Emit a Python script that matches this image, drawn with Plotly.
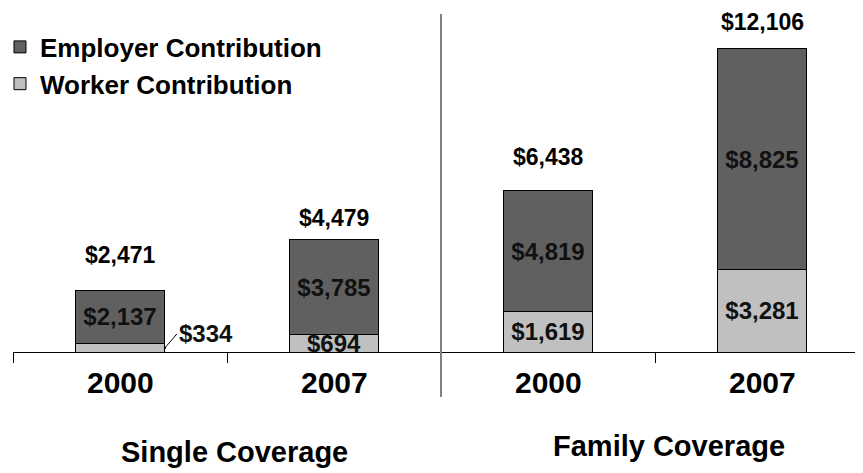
import plotly.graph_objects as go

categories = ["2000", "2007", "2000", "2007"]
groups = ["Single Coverage", "Family Coverage"]
employer = [2137, 3785, 4819, 8825]
worker = [334, 694, 1619, 3281]
totals = [2471, 4479, 6438, 12106]

# vertical pixel gap of each total label above its bar (style only)
total_label_gap = [35, 22, 34, 27]

def fmt(v):
    return "${:,}".format(v)

xpos = list(range(len(categories)))
FONT = "Liberation Sans, Arial, sans-serif"
LBL = 24

fig = go.Figure()
worker_text = ["", fmt(worker[1]), fmt(worker[2]), fmt(worker[3])]
fig.add_trace(go.Bar(
    x=xpos, y=worker, name="<b>Worker Contribution</b>", legendgroup="w", legendrank=2,
    marker=dict(color="#c0c0c0", line=dict(color="black", width=1)),
    text=worker_text, texttemplate="<b>%{text}</b>", textposition="inside",
    insidetextanchor="middle",
    textfont=dict(family=FONT, size=LBL, color="#111111"), width=0.42,
    constraintext="none",
))
fig.add_trace(go.Bar(
    x=xpos, y=employer, name="<b>Employer Contribution</b>", legendgroup="e", legendrank=1,
    marker=dict(color="#606060", line=dict(color="black", width=1)),
    text=[fmt(v) for v in employer], texttemplate="<b>%{text}</b>", textposition="inside",
    insidetextanchor="middle",
    textfont=dict(family=FONT, size=LBL, color="#111111"), width=0.42,
    constraintext="none",
))

annotations = []
for i, t in enumerate(totals):
    annotations.append(dict(x=xpos[i], y=t, xref="x", yref="y", text="<b>%s</b>" % fmt(t),
                            showarrow=False, yanchor="middle", yshift=total_label_gap[i],
                            borderpad=0,
                            font=dict(family=FONT, size=23, color="black")))
# outside label for the small worker value
annotations.append(dict(x=xpos[0] + 0.21, y=worker[0] / 2, xref="x", yref="y",
                        text="<b>%s</b>" % fmt(worker[0]), showarrow=True, arrowhead=7,
                        arrowsize=0.5, arrowwidth=1, arrowcolor="black",
                        ax=12, ay=-14, xanchor="left", yanchor="middle",
                        font=dict(family=FONT, size=LBL, color="#111111")))
for i, c in enumerate(categories):
    annotations.append(dict(x=xpos[i], y=-0.090, xref="x", yref="paper", text="<b>%s</b>" % c,
                            showarrow=False, yanchor="middle",
                            font=dict(family=FONT, size=30, color="black")))
annotations.append(dict(x=0.537, y=-0.291, xref="x", yref="paper", text="<b>%s</b>" % groups[0],
                        showarrow=False, yanchor="middle",
                        font=dict(family=FONT, size=29, color="black")))
annotations.append(dict(x=2.565, y=-0.273, xref="x", yref="paper", text="<b>%s</b>" % groups[1],
                        showarrow=False, yanchor="middle",
                        font=dict(family=FONT, size=29, color="black")))

fig.update_layout(
    width=855, height=465, barmode="stack",
    margin=dict(l=5, r=0, t=0, b=121, autoexpand=False),
    plot_bgcolor="white", paper_bgcolor="white",
    showlegend=True,
    legend=dict(x=-0.0153, y=0.955, xanchor="left", yanchor="top", traceorder="normal",
                font=dict(family=FONT, size=26, color="black"), tracegroupgap=23,
                bgcolor="rgba(0,0,0,0)"),
    xaxis=dict(range=[-0.5, -0.5 + 850 / 214], tickvals=[-0.5, 0.5, 1.5, 2.5],
               showticklabels=False, ticks="outside", ticklen=10, tickcolor="black",
               showline=True, linecolor="black", linewidth=1, showgrid=False, zeroline=False),
    yaxis=dict(range=[0, 13743], visible=False, showgrid=False, zeroline=False),
    annotations=annotations,
    shapes=[dict(type="line", xref="x", yref="paper", x0=1.5, x1=1.5,
                 y0=-0.131, y1=0.9826, line=dict(color="#808080", width=2))],
)
fig.write_html("out.html")
